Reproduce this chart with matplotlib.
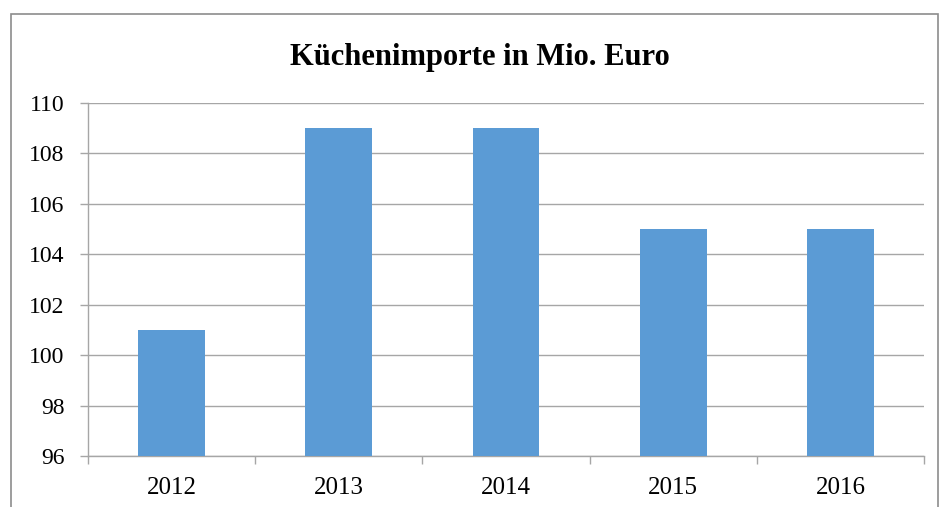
import matplotlib

matplotlib.use("Agg")
import matplotlib.pyplot as plt
from matplotlib.patches import Rectangle

# chart data
years = ["2012", "2013", "2014", "2015", "2016"]
imports = [101, 109, 109, 105, 105]
y_ticks = [96, 98, 100, 102, 104, 106, 108, 110]

BAR_COLOR = "#5B9BD5"
GRID_COLOR = "#A6A6A6"

plt.rcParams["font.family"] = ["Liberation Serif", "DejaVu Serif"]

fig = plt.figure(figsize=(9.4, 5.07), dpi=100, facecolor="white")
ax = fig.add_axes([88 / 940, 1 - 456 / 507, (924 - 88) / 940, (456 - 103) / 507])

# outer chart frame (bottom edge runs off the image)
fig.patches.append(
    Rectangle(
        (11 / 940, -0.05),
        (938 - 11) / 940,
        1 - 14 / 507 + 0.05,
        transform=fig.transFigure,
        fill=False,
        edgecolor="#8C8C8C",
        linewidth=1.2,
    )
)

x = list(range(len(years)))
ax.bar(x, imports, width=0.4, bottom=0, color=BAR_COLOR, zorder=3)

ax.set_ylim(96, 110)
ax.set_xlim(-0.5, len(years) - 0.5)
ax.set_yticks(y_ticks)
ax.set_yticklabels([str(t) for t in y_ticks], fontsize=17)

ax.set_xticks(x)
ax.set_xticklabels(years, fontsize=18)
ax.tick_params(axis="x", length=0, pad=15)
ax.set_xticks([i - 0.5 for i in range(len(years) + 1)], minor=True)
ax.tick_params(axis="x", which="minor", length=6, color=GRID_COLOR, width=1)
ax.tick_params(axis="y", length=6, color=GRID_COLOR, width=1, pad=11)

ax.yaxis.grid(True, color=GRID_COLOR, linewidth=1, zorder=0)
ax.set_axisbelow(True)

for side in ["top", "right"]:
    ax.spines[side].set_visible(False)
for side in ["left", "bottom"]:
    ax.spines[side].set_color(GRID_COLOR)
    ax.spines[side].set_linewidth(1)

fig.text(480 / 940, 1 - 57 / 507, "Küchenimporte in Mio. Euro",
         ha="center", va="center", fontsize=22, fontweight="bold")

fig.savefig("out.png", dpi=100, facecolor="white")
